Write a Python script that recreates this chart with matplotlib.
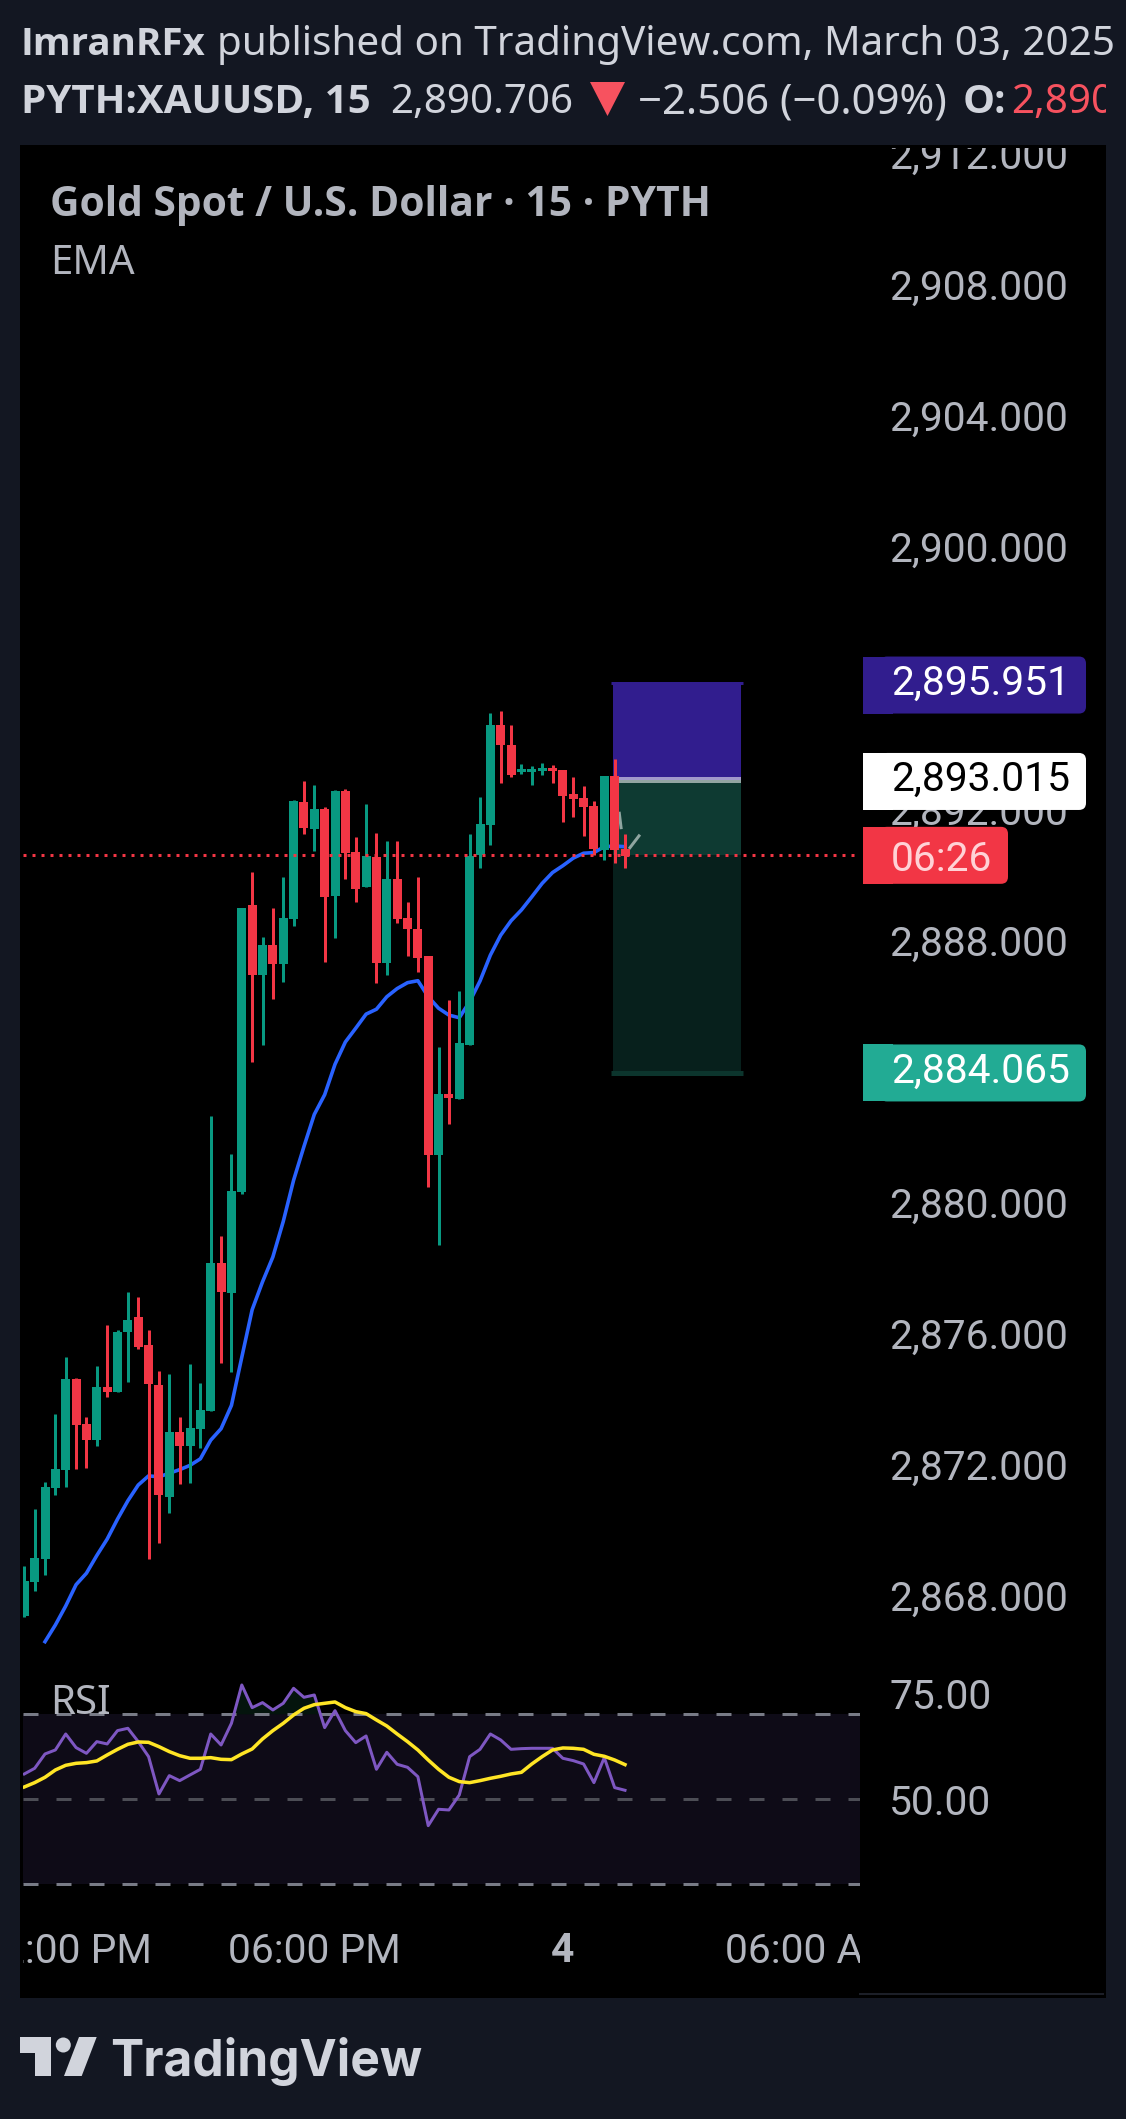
import numpy as np
import matplotlib
matplotlib.use("Agg")
import matplotlib.pyplot as plt
from matplotlib.patches import FancyBboxPatch, Rectangle, Polygon, Circle
from matplotlib.ticker import FuncFormatter
from matplotlib.transforms import Bbox

W, H = 1126, 2119
PX = 0.72  # one pixel in points at dpi 100

# candles (15 min bars)
opens = [2867.50, 2868.53, 2869.24, 2871.40, 2871.95, 2874.73, 2873.36, 2872.86, 2874.48, 2874.33,
         2876.16, 2876.61, 2875.76, 2874.54, 2871.12, 2873.10, 2872.68, 2873.20, 2873.75, 2878.27,
         2877.35, 2880.43, 2889.19, 2887.05, 2887.97, 2887.39, 2888.76, 2892.33, 2891.51, 2892.12,
         2889.46, 2892.67, 2890.81, 2889.74, 2890.65, 2887.42, 2889.98, 2888.79, 2888.46, 2887.63,
         2881.56, 2883.42, 2883.27, 2884.92, 2890.72, 2891.63, 2894.68, 2894.07, 2893.25, 2893.25,
         2893.28, 2893.37, 2893.31, 2892.58, 2892.46, 2892.21, 2890.87, 2893.13, 2890.90]
highs = [2869.02, 2870.76, 2871.58, 2873.65, 2875.39, 2874.77, 2873.56, 2875.12, 2876.37, 2876.22,
         2877.38, 2877.22, 2876.22, 2874.97, 2874.88, 2873.56, 2875.18, 2874.61, 2882.75, 2879.09,
         2881.59, 2889.10, 2890.20, 2888.21, 2889.10, 2890.04, 2892.39, 2892.97, 2892.85, 2892.18,
         2892.70, 2892.73, 2891.27, 2892.27, 2891.39, 2891.14, 2891.14, 2889.28, 2890.04, 2887.63,
         2884.86, 2886.29, 2886.57, 2891.36, 2892.49, 2895.05, 2895.11, 2894.68, 2893.49, 2893.43,
         2893.52, 2893.46, 2893.31, 2893.10, 2892.82, 2892.36, 2893.13, 2893.65, 2891.36]
lows = [2867.47, 2868.26, 2868.75, 2871.19, 2871.43, 2871.98, 2872.01, 2872.68, 2874.17, 2874.33,
        2874.63, 2875.64, 2869.24, 2869.73, 2870.64, 2871.52, 2871.56, 2872.63, 2873.75, 2875.22,
        2874.94, 2880.37, 2884.40, 2884.92, 2886.32, 2886.84, 2888.55, 2891.36, 2890.84, 2887.45,
        2888.18, 2889.98, 2889.28, 2889.74, 2886.81, 2887.05, 2888.64, 2887.63, 2887.15, 2880.58,
        2878.81, 2882.51, 2883.27, 2884.92, 2890.32, 2891.02, 2892.91, 2893.10, 2893.19, 2892.85,
        2893.16, 2892.91, 2891.72, 2891.88, 2891.30, 2890.72, 2890.56, 2890.47, 2890.32]
closes = [2868.56, 2869.27, 2871.43, 2871.98, 2874.73, 2873.32, 2872.86, 2874.48, 2874.33, 2876.16,
          2876.53, 2875.70, 2874.58, 2871.19, 2873.10, 2872.68, 2873.24, 2873.78, 2878.27, 2877.38,
          2880.46, 2889.10, 2887.05, 2887.97, 2887.39, 2888.79, 2892.36, 2891.54, 2892.12, 2889.43,
          2892.67, 2890.78, 2889.68, 2890.69, 2887.42, 2889.98, 2888.76, 2888.46, 2887.57, 2881.56,
          2883.42, 2883.30, 2884.98, 2890.69, 2891.66, 2894.68, 2894.07, 2893.16, 2893.34, 2893.34,
          2893.37, 2893.28, 2892.52, 2892.42, 2892.18, 2890.90, 2893.13, 2890.87, 2890.69]

ema = [np.nan, np.nan, 2866.71, 2867.22, 2867.80, 2868.45, 2868.80, 2869.34, 2869.84, 2870.45,
       2871.01, 2871.49, 2871.77, 2871.74, 2871.85, 2871.96, 2872.09, 2872.29, 2872.86, 2873.21,
       2873.92, 2875.39, 2876.84, 2877.69, 2878.45, 2879.53, 2880.79, 2881.82, 2882.80, 2883.40,
       2884.33, 2885.01, 2885.43, 2885.86, 2886.01, 2886.39, 2886.64, 2886.82, 2886.88, 2886.39,
       2886.04, 2885.83, 2885.75, 2886.24, 2886.87, 2887.66, 2888.27, 2888.71, 2889.04, 2889.44,
       2889.85, 2890.18, 2890.39, 2890.62, 2890.77, 2890.79, 2890.97, 2890.99, 2890.97]

rsi = [55.96, 57.29, 60.67, 61.61, 65.37, 62.16, 60.82, 63.57, 63.02, 66.16,
       66.71, 63.57, 60.04, 51.25, 55.57, 54.39, 55.73, 57.06, 65.37, 62.78,
       67.88, 76.90, 71.57, 72.75, 71.02, 72.59, 76.12, 74.00, 74.55, 66.86,
       70.86, 66.16, 63.33, 64.90, 57.06, 61.06, 58.24, 57.53, 55.33, 43.80,
       47.65, 47.49, 51.02, 60.04, 61.76, 65.37, 63.96, 61.76, 61.92, 62.00,
       62.00, 62.00, 59.65, 59.10, 58.31, 53.92, 59.80, 52.75, 52.12]
rsi_ma = [52.90, 53.92, 55.18, 56.90, 58.00, 58.47, 58.63, 59.02, 60.43, 61.76,
          62.94, 63.49, 63.41, 62.39, 61.22, 60.27, 59.65, 59.65, 59.80, 59.41,
          59.33, 60.67, 61.84, 64.20, 66.16, 67.88, 69.84, 71.41, 72.27, 72.59,
          72.90, 71.57, 70.63, 70.16, 68.67, 67.25, 65.37, 63.57, 61.61, 59.25,
          57.06, 55.18, 54.16, 53.92, 54.39, 54.94, 55.41, 55.96, 56.35, 58.31,
          60.04, 61.61, 62.08, 62.00, 61.76, 60.59, 60.12, 59.25, 58.16]

price_ticks = [2912, 2908, 2904, 2900, 2892, 2888, 2880, 2876, 2872, 2868]
rsi_ticks = [75, 50]
rsi_bands = [70, 50, 30]
time_ticks = [4, 28, 52, 76]
time_labels = ["12:00 PM", "06:00 PM", "4", "06:00 AM"]

last_price = 2890.706
entry_price = 2893.015
stop_price = 2895.951
target_price = 2884.065
box_start, box_end = 56.85, 69.2
arrow_a_x, arrow_a_y = [58.48, 59.35], [2890.94, 2891.30]
arrow_b_x, arrow_b_y = [57.45, 57.62], [2891.99, 2891.55]

BG = "#131722"
GREEN = "#089981"
RED = "#f23645"
GREY = "#b2b5be"
LIGHT = "#d1d4dc"
SANS = ["Noto Sans", "DejaVu Sans"]
BOLD = ["Open Sans", "DejaVu Sans"]
ROBOTO = ["Roboto", "DejaVu Sans"]
TICK_SIZE = 29.3


def axes_px(left, top, right, bottom):
    return [left / W, 1 - bottom / H, (right - left) / W, (bottom - top) / H]


plt.rcParams["font.family"] = SANS
fig = plt.figure(figsize=(W / 100, H / 100), dpi=100, facecolor=BG)

# backdrop
back = fig.add_axes([0, 0, 1, 1], zorder=0)
back.set_xlim(0, W)
back.set_ylim(H, 0)
back.axis("off")
back.add_patch(Rectangle((20, 145), 1086, 1853, color="black", lw=0))
back.plot([860, 1103], [1994, 1994], color="#1c1f28", lw=2 * PX)

# price pane
bars = np.arange(len(opens))
x_lo = (23 - 24.3) / 10.357
x_hi = (860 - 24.3) / 10.357

ax = fig.add_axes(axes_px(23, 145, 860, 1670), zorder=1)
ax.set_facecolor("none")
ax.set_xlim(x_lo, x_hi)
ax.set_ylim(2888 + (944 - 1670) / 32.77, 2888 + (944 - 145) / 32.77)
for s in ax.spines.values():
    s.set_visible(False)

# long/short position tool
ax.fill_between([box_start, box_end], entry_price, stop_price, color="#311d8e", lw=0, zorder=1)
ax.fill_between([box_start, box_end], last_price, entry_price, color="#0e3a32", lw=0, zorder=1)
ax.fill_between([box_start, box_end], target_price, last_price, color="#07201c", lw=0, zorder=1)
ax.hlines(entry_price, box_start, box_end, color="white", alpha=0.55, lw=6 * PX, zorder=1.2)
ax.hlines(stop_price, box_start - 0.2, box_end + 0.2, color="#311d8e", lw=3 * PX, zorder=1.2)
ax.hlines(target_price, box_start - 0.2, box_end + 0.2, color="#0c352d", lw=5 * PX, zorder=1.2)
ax.plot(arrow_a_x, arrow_a_y, color="#8fa5a0", lw=3 * PX, zorder=1.5)
ax.plot(arrow_b_x, arrow_b_y, color="#8fa5a0", lw=3 * PX, zorder=1.5)

ax.plot(bars, ema, color="#2962ff", lw=3.6 * PX, zorder=2)

o, h, l, c = map(np.array, (opens, highs, lows, closes))
colors = [GREEN if b >= a else RED for a, b in zip(o, c)]
ax.vlines(bars, l, h, colors=colors, lw=3 * PX, zorder=3)
ax.bar(bars, np.abs(c - o), bottom=np.minimum(o, c), width=0.87, color=colors, lw=0, zorder=3)

ax.axhline(last_price, color=RED, lw=3 * PX, linestyle=(0, (1, 2)), dash_capstyle="butt", zorder=4)

ax.set_yticks(price_ticks)
ax.yaxis.set_major_formatter(FuncFormatter(lambda v, _: f"{v:,.3f}"))
ax.yaxis.tick_right()
ax.tick_params(axis="y", length=0, pad=29 * PX, labelsize=TICK_SIZE, labelcolor=GREY)
ax.tick_params(axis="x", length=0, labelbottom=False)
for lab in ax.get_yticklabels():
    lab.set_family(ROBOTO)
    lab.set_verticalalignment("center")
    lab.set_clip_box(Bbox([[860, 0], [1106, H - 148]]))
    lab.set_clip_on(True)

# RSI pane
ar = fig.add_axes(axes_px(23, 1670, 860, 1905), zorder=1)
ar.set_facecolor("none")
ar.set_xlim(x_lo, x_hi)
ar.set_ylim(50 + (1799.3 - 1905) / 4.25, 50 + (1799.3 - 1670) / 4.25)
for s in ar.spines.values():
    s.set_visible(False)

ar.axhspan(rsi_bands[-1], rsi_bands[0], color="#0e0b17", lw=0, zorder=1)
for b, col in zip(rsi_bands, ["#787b86", "#4c4d55", "#787b86"]):
    ar.axhline(b, color=col, lw=3 * PX, linestyle=(0, (5, 6)), dash_capstyle="butt", zorder=1.5)
rsi_arr = np.array(rsi)
ar.fill_between(bars, rsi_bands[0], rsi_arr, where=rsi_arr > rsi_bands[0], interpolate=True,
                color="#04140d", lw=0, zorder=1.2)
ar.plot(bars, rsi, color="#7e57c2", lw=3 * PX, zorder=2)
ar.plot(bars, rsi_ma, color="#ffe525", lw=3.5 * PX, zorder=3)

ar.set_yticks(rsi_ticks)
ar.yaxis.set_major_formatter(FuncFormatter(lambda v, _: f"{v:.2f}"))
ar.yaxis.tick_right()
ar.tick_params(axis="y", length=0, pad=29 * PX, labelsize=TICK_SIZE, labelcolor=GREY)
ar.set_xticks(time_ticks)
ar.set_xticklabels(time_labels)
ar.tick_params(axis="x", length=0, pad=27 * PX, labelsize=TICK_SIZE, labelcolor=GREY)
for lab in ar.get_yticklabels():
    lab.set_family(ROBOTO)
for lab in ar.get_xticklabels():
    lab.set_family(ROBOTO)
    lab.set_clip_box(Bbox([[23, 0], [860, H]]))
    lab.set_clip_on(True)
    if lab.get_text() == "4":
        lab.set_fontweight("bold")

# everything that sits on top: header, tags, logo
top = fig.add_axes([0, 0, 1, 1], zorder=5)
top.set_xlim(0, W)
top.set_ylim(H, 0)
top.axis("off")
top.patch.set_alpha(0)


def price_y(price):
    return H - ax.transData.transform((0, price))[1]


def tag(price, text, face, color, right=1086, box_dy=0, text_dy=-1.8):
    y = price_y(price) + box_dy
    top.add_patch(FancyBboxPatch((880, y - 28.5), right - 880, 57, boxstyle="round,pad=0,rounding_size=7",
                                 fc=face, ec="none"))
    top.add_patch(Rectangle((863, y - 28.5), 30, 57, fc=face, ec="none"))
    top.text(891, y + text_dy, text, color=color, fontsize=TICK_SIZE, va="center", family=ROBOTO)


tag(stop_price, f"{stop_price:,.3f}", "#311d8e", "white", box_dy=1.6)
tag(entry_price, f"{entry_price:,.3f}", "white", "black", box_dy=1.8)
tag(last_price, "06:26", RED, "#ffd2d6", right=1008, text_dy=4)
tag(target_price, f"{target_price:,.3f}", "#22ab94", "white")

hdr = dict(va="baseline", fontsize=29)
top.text(21, 55, "ImranRFx", color=LIGHT, fontweight="bold", family=BOLD, va="baseline", fontsize=27.7)
top.text(217, 55, "published on TradingView.com, March 03, 2025", color=LIGHT, va="baseline", fontsize=29.1)
top.text(21, 113, "PYTH:XAUUSD, 15", color=LIGHT, fontweight="bold", family=BOLD, **hdr)
top.text(390, 113, "2,890.706", color=LIGHT, **hdr)
top.add_patch(Polygon([(590, 82), (625, 82), (607.5, 116)], fc="#f7525f", ec="none"))
top.text(638, 113, "\u22122.506 (\u22120.09%)", color=LIGHT, va="baseline", fontsize=30.2)
top.text(963, 113, "O:", color=LIGHT, fontweight="bold", family=BOLD, **hdr)
t = top.text(1011, 113, "2,890.900", color="#f7525f", **hdr)
t.set_clip_box(Bbox([[0, 0], [1106, H]]))
t.set_clip_on(True)

top.text(50, 216, "Gold Spot / U.S. Dollar \u00b7 15 \u00b7 PYTH", color=GREY, fontweight="bold",
         va="baseline", fontsize=29.3, family=BOLD)
top.text(50, 274, "EMA", color=GREY, va="baseline", fontsize=29)
top.text(50, 1714, "RSI", color=GREY, va="baseline", fontsize=29)

# TradingView logo
logo = "#d1d4dc"
top.add_patch(Polygon([(20, 2037), (51, 2037), (51, 2076), (35, 2076), (35, 2053), (20, 2053)], fc=logo, ec="none"))
top.add_patch(Circle((63.3, 2045), 7.5, fc=logo, ec="none"))
top.add_patch(Polygon([(79, 2037), (96.7, 2037), (81.7, 2076), (64, 2076)], fc=logo, ec="none"))
top.text(110, 2076, "TradingView", color=logo, fontsize=35.8, fontweight="bold", va="baseline",
         family=["Inter", "DejaVu Sans"])

fig.savefig("out.png", dpi=100, facecolor=BG)
